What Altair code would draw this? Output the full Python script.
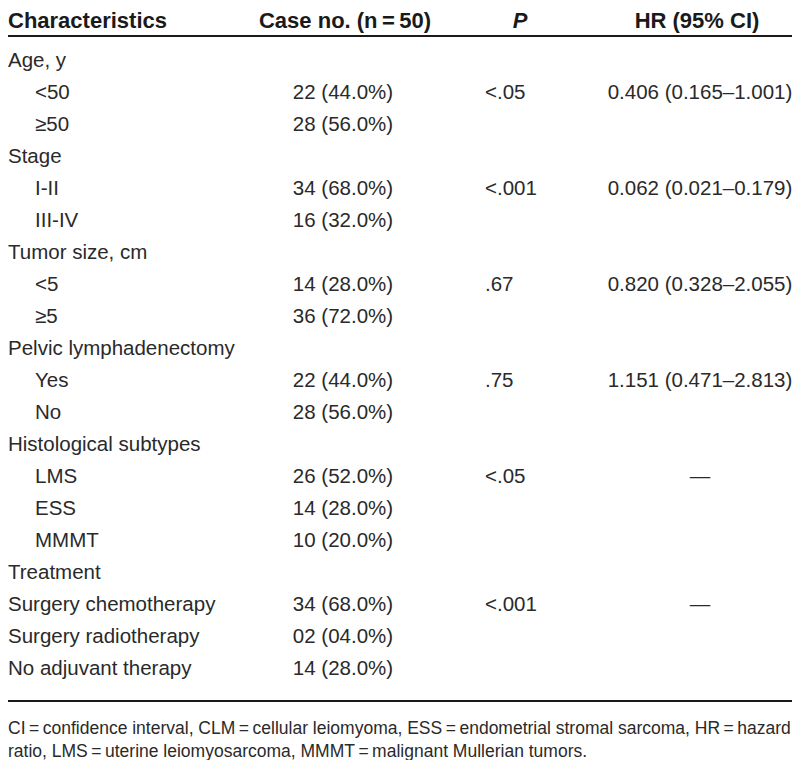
import altair as alt
import pandas as pd

labels = ["Age, y", "<50", "≥50", "Stage", "I-II", "III-IV", "Tumor size, cm", "<5", "≥5",
          "Pelvic lymphadenectomy", "Yes", "No", "Histological subtypes", "LMS", "ESS", "MMMT",
          "Treatment", "Surgery chemotherapy", "Surgery radiotherapy", "No adjuvant therapy"]
indent = [0, 1, 1, 0, 1, 1, 0, 1, 1, 0, 1, 1, 0, 1, 1, 1, 0, 0, 0, 0]
cases = ["", "22 (44.0%)", "28 (56.0%)", "", "34 (68.0%)", "16 (32.0%)", "", "14 (28.0%)", "36 (72.0%)",
         "", "22 (44.0%)", "28 (56.0%)", "", "26 (52.0%)", "14 (28.0%)", "10 (20.0%)",
         "", "34 (68.0%)", "02 (04.0%)", "14 (28.0%)"]
pvals = ["", "<.05", "", "", "<.001", "", "", ".67", "", "", ".75", "", "", "<.05", "", "",
         "", "<.001", "", ""]
hrs = ["", "0.406 (0.165–1.001)", "", "", "0.062 (0.021–0.179)", "", "", "0.820 (0.328–2.055)", "",
       "", "1.151 (0.471–2.813)", "", "", "—", "", "", "", "—", "", ""]
headers = ["Characteristics", "Case no. (n\u2009=\u200950)", "P", "HR (95% CI)"]
footnotes = [
    "CI\u2009=\u2009confidence interval, CLM\u2009=\u2009cellular leiomyoma, ESS\u2009=\u2009endometrial stromal sarcoma, HR\u2009=\u2009hazard",
    "ratio, LMS\u2009=\u2009uterine leiomyosarcoma, MMMT\u2009=\u2009malignant Mullerian tumors.",
]

df = pd.DataFrame({
    "row": list(range(1, len(labels) + 1)),
    "label": labels,
    "indent": indent,
    "case": cases,
    "p": pvals,
    "hr": hrs,
})

FONT = "Liberation Sans, Arial, sans-serif"
COLOR = "#2a2a2a"
FS = 20.5

yenc = alt.Y("row:Q", scale=alt.Scale(domain=[1, 20], range=[53, 661]), axis=None)

base = alt.Chart(df)

def txt(**kw):
    return dict(font=FONT, fontSize=FS, color=COLOR, baseline="middle", **kw)

lab_top = base.mark_text(**txt(align="left")).encode(
    x=alt.value(0), y=yenc, text="label:N").transform_filter("datum.indent == 0")
lab_sub = base.mark_text(**txt(align="left")).encode(
    x=alt.value(27), y=yenc, text="label:N").transform_filter("datum.indent == 1")
case_l = base.mark_text(**txt(align="center")).encode(
    x=alt.value(335), y=yenc, text="case:N").transform_filter("datum.case != ''")
p_l = base.mark_text(**txt(align="left")).encode(
    x=alt.value(477), y=yenc, text="p:N").transform_filter("datum.p != ''")
hr_l = base.mark_text(**txt(align="center")).encode(
    x=alt.value(692), y=yenc, text="hr:N").transform_filter("datum.hr != ''")

hdr_x = [0, 337, 512, 689]
hdr_align = ["left", "center", "center", "center"]
hdr_layers = []
for h, hx, ha in zip(headers, hdr_x, hdr_align):
    hdr_layers.append(
        alt.Chart(df).mark_text(font=FONT, fontSize=22, fontWeight="bold", color="#1a1a1a",
                                baseline="middle", align=ha, text=h,
                                fontStyle="italic" if h == "P" else "normal")
        .encode(x=alt.value(hx), y=alt.value(13)).transform_filter("datum.row == 1")
    )

rule_top = alt.Chart(df).mark_rule(color="#1a1a1a", strokeWidth=2).encode(
    x=alt.value(0), x2=alt.value(784), y=alt.value(28)).transform_filter("datum.row == 1")
rule_bot = alt.Chart(df).mark_rule(color="#1a1a1a", strokeWidth=2).encode(
    x=alt.value(0), x2=alt.value(784), y=alt.value(693)).transform_filter("datum.row == 1")

foot_layers = []
for f, fy in zip(footnotes, [721, 744]):
    foot_layers.append(
        alt.Chart(df).mark_text(font=FONT, fontSize=17.5, color=COLOR, baseline="middle",
                                align="left", text=f)
        .encode(x=alt.value(0), y=alt.value(fy)).transform_filter("datum.row == 1")
    )

chart = alt.layer(
    lab_top, lab_sub, case_l, p_l, hr_l, *hdr_layers, rule_top, rule_bot, *foot_layers
).properties(
    width=784, height=752, padding=0, autosize="none", background="white"
).configure_view(stroke=None, strokeWidth=0)

chart.save("out.html", embed_options={"renderer": "svg", "actions": False})
